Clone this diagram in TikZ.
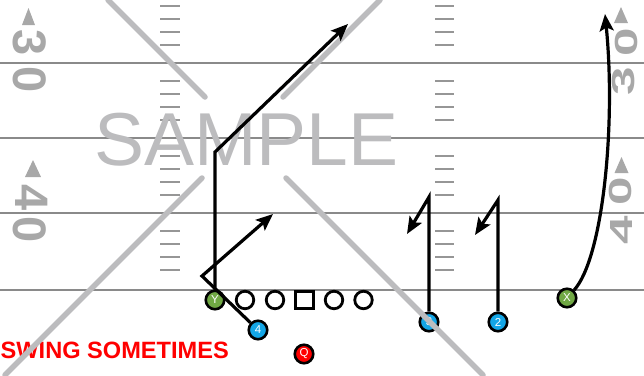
\documentclass[tikz,border=0pt]{standalone}
\usepackage{fontspec}
\setmainfont{Liberation Sans}
\usetikzlibrary{arrows.meta, positioning}
\definecolor{yardgray}{RGB}{138,138,138}
\definecolor{hashgray}{RGB}{150,150,150}
\definecolor{numgray}{RGB}{168,168,168}
\definecolor{markgray}{RGB}{188,188,190}
\definecolor{wrgreen}{RGB}{112,168,68}
\definecolor{backblue}{RGB}{20,166,230}
\definecolor{qbred}{RGB}{255,0,0}
\tikzset{
  yardline/.style={draw=yardgray, line width=2pt},
  hashmark/.style={draw=hashgray, line width=2pt},
  yardnum/.style={
    text=numgray,
    font=\bfseries\fontsize{47}{47}\selectfont,
    inner sep=0pt,
  },
  yardnumr/.style={
    text=numgray,
    font=\bfseries\fontsize{32}{32}\selectfont,
    inner sep=0pt,
  },
  yardtri/.style={fill=numgray},
  player/.style={
    circle,
    draw=black,
    line width=2.6pt,
    minimum size=18.5pt,
    inner sep=0pt,
    text=white,
    font=\fontsize{11.5}{11.5}\selectfont,
  },
  lineman/.style={circle, draw=black, line width=2.8pt, minimum size=17.5pt, fill=white},
  snapbox/.style={rectangle, draw=black, line width=2.8pt, minimum size=17.5pt, fill=white},
  route/.style={-{Stealth[length=17pt, width=14pt, inset=3.5pt]}, line width=3.2pt, draw=black},
  wmline/.style={draw=markgray, line width=5.5pt, line cap=round},
  wmtext/.style={text=markgray, font=\fontsize{75}{75}\selectfont, inner sep=0pt},
  notetext/.style={text=qbred, font=\bfseries\fontsize{23.6}{23.6}\selectfont, inner sep=0pt},
}

\begin{document}
\begin{tikzpicture}[x=1pt, y=-1pt]

\useasboundingbox (0,0) rectangle (644,375);

% --- Yard lines ---
\draw[yardline] (0,63) -- (644,63);
\draw[yardline] (0,138) -- (644,138);
\draw[yardline] (0,213) -- (644,213);
\draw[yardline] (0,290) -- (644,290);

% --- Hash marks (left column) ---
\draw[hashmark] (160,6) -- (180,6) (160,19) -- (180,19) (160,32) -- (180,32) (160,45) -- (180,45);
\draw[hashmark] (160,81) -- (180,81) (160,94) -- (180,94) (160,107) -- (180,107) (160,120) -- (180,120);
\draw[hashmark] (160,156) -- (180,156) (160,169) -- (180,169) (160,182) -- (180,182) (160,195) -- (180,195);
\draw[hashmark] (160,231) -- (180,231) (160,244) -- (180,244) (160,257) -- (180,257) (160,270) -- (180,270);

% --- Hash marks (right column) ---
\draw[hashmark] (435,6) -- (454,6) (435,19) -- (454,19) (435,32) -- (454,32) (435,45) -- (454,45);
\draw[hashmark] (435,81) -- (454,81) (435,94) -- (454,94) (435,107) -- (454,107) (435,120) -- (454,120);
\draw[hashmark] (435,156) -- (454,156) (435,169) -- (454,169) (435,182) -- (454,182) (435,195) -- (454,195);
\draw[hashmark] (435,231) -- (454,231) (435,244) -- (454,244) (435,257) -- (454,257) (435,270) -- (454,270);

% --- Yard numbers (left side) ---
\fill[yardtri] (28.5,8) -- (22,25) -- (35,25) -- cycle;
\node[yardnum, rotate=-90] (l30a) at (30,42.5) {3};
\node[yardnum, rotate=-90] (l30b) at (30,80) {0};
\fill[yardtri] (33,160) -- (25,177) -- (41,177) -- cycle;
\node[yardnum, rotate=-90] (l40a) at (32,197.5) {4};
\node[yardnum, rotate=-90] (l40b) at (30,230) {0};

% --- Yard numbers (right side) ---
\fill[yardtri] (621,7) -- (614,23) -- (628,23) -- cycle;
\node[yardnumr, rotate=90, xscale=1.6] (r30a) at (623.5,81) {3};
\node[yardnumr, rotate=90, xscale=1.6] (r30b) at (626,42) {0};
\fill[yardtri] (621.5,157) -- (614.5,173) -- (628.5,173) -- cycle;
\node[yardnumr, rotate=90, xscale=1.6] (r40a) at (621,230) {4};
\node[yardnumr, rotate=90, xscale=1.6] (r40b) at (620,191) {0};

% --- Formation ---
\node[player, fill=wrgreen] (pY) at (215,300) {Y};
\node[lineman] (lt) at (245,300) {};
\node[lineman] (lg) at (275,300) {};
\node[snapbox] (ctr) at (304.5,300) {};
\node[lineman] (rg) at (334,300) {};
\node[lineman] (rt) at (363.5,300) {};
\node[player, fill=backblue] (p4) at (258,330) {4};
\node[player, fill=qbred] (pQ) at (304,354) {Q};
\node[player, fill=backblue] (p3) at (429,322) {3};
\node[player, fill=backblue] (p2) at (498,322) {2};
\node[player, fill=wrgreen] (pX) at (567,298) {X};

% --- Note ---
\node[notetext, anchor=base west] (note) at (0.5,358) {SWING SOMETIMES};

% --- Watermark ---
\node[wmtext, anchor=base] (stamp) at (246.5,165) {SAMPLE};
\draw[wmline] (108,0) -- (205,97);
\draw[wmline] (286,178) -- (483,375);
\draw[wmline] (380,0) -- (283,97);
\draw[wmline] (202,178) -- (5,375);

% --- Route points ---
\coordinate (yBreak) at (215,152);
\coordinate (yEnd) at (348,24);
\coordinate (fourPivot) at (202,276);
\coordinate (fourEnd) at (273,214);
\coordinate (threeTop) at (429,197);
\coordinate (threeEnd) at (407,234);
\coordinate (twoTop) at (498,200);
\coordinate (twoEnd) at (475,235);
\coordinate (xEnd) at (605,14);

% --- Routes ---
\draw[route] (pY) -- (yBreak) -- (yEnd);
\draw[route] (p4) -- (fourPivot) -- (fourEnd);
\draw[route] (p3) -- (threeTop) -- (threeEnd);
\draw[route] (p2) -- (twoTop) -- (twoEnd);
\draw[route] (pX) .. controls (603,258) and (616,125) .. (xEnd);

\end{tikzpicture}
\end{document}
